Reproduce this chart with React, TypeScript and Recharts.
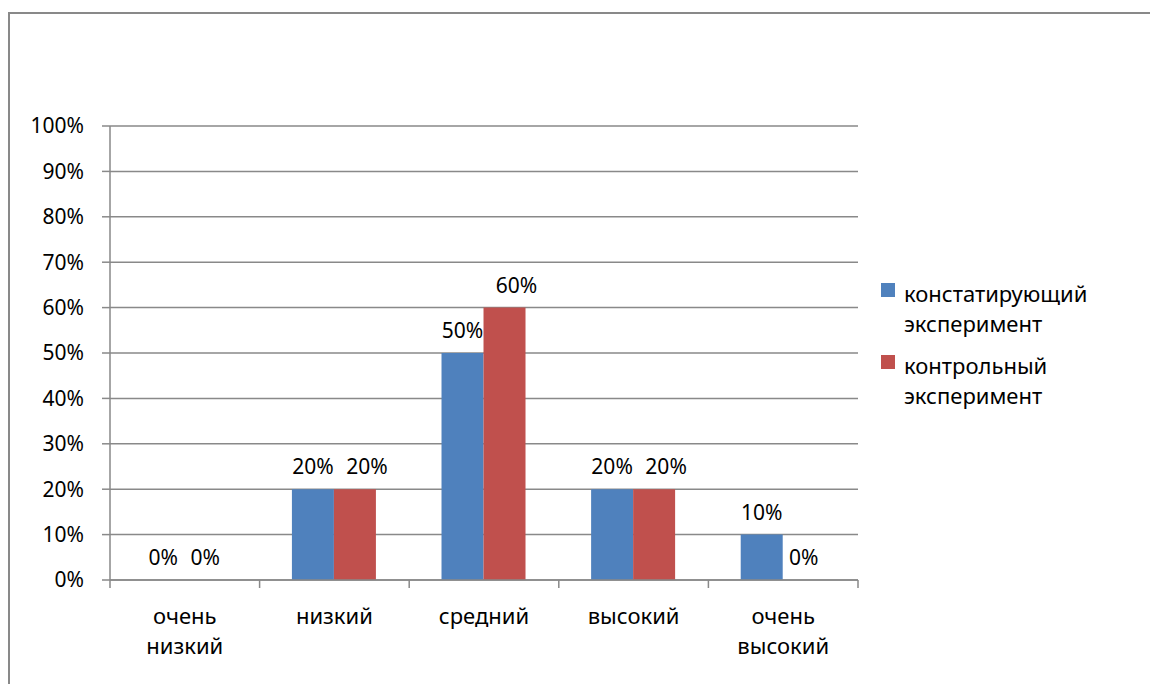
import React from 'react';
import { BarChart, Bar, XAxis, YAxis, CartesianGrid, LabelList } from 'recharts';

const categories = ['очень низкий', 'низкий', 'средний', 'высокий', 'очень высокий'];
const seriesNames = ['констатирующий эксперимент', 'контрольный эксперимент'];
const stating = [0, 20, 50, 20, 10];
const control = [0, 20, 60, 20, 0];
const yTicks = [0, 10, 20, 30, 40, 50, 60, 70, 80, 90, 100];

const colors = ['#4F81BD', '#C0504D'];
const gridColor = '#898989';
const font = '"Noto Sans", "Open Sans", sans-serif';

const data = categories.map((name, i) => ({
    name,
    stating: stating[i],
    control: control[i],
}));

const XTick = (props: any) => {
    const { x, y, payload, index, visibleTicksCount, width } = props;
    const band = payload.offset ? payload.offset * 2 : width / visibleTicksCount;
    const words = String(payload.value).split(' ');
    const left = x - band / 2;
    const right = x + band / 2;
    return (
        <g>
            <line x1={left} x2={left} y1={y} y2={y + 8} stroke={gridColor} strokeWidth={1.5} />
            {index === visibleTicksCount - 1 && (
                <line x1={right} x2={right} y1={y} y2={y + 8} stroke={gridColor} strokeWidth={1.5} />
            )}
            <text textAnchor="middle" fill="#000" fontSize={22} fontFamily={font}>
                {words.map((w, i) => (
                    <tspan key={i} x={x} y={y + 44 + i * 30}>{w}</tspan>
                ))}
            </text>
        </g>
    );
};

// value label above a bar; the second series is nudged right like Excel does to keep labels apart
const makeLabel = (shift: number) => (props: any) => {
    const { x, y, width, value } = props;
    const dx = value > 0 ? shift : 0;
    return (
        <text x={x + width / 2 + dx} y={y - 15} textAnchor="middle" fill="#000" fontSize={21} fontFamily={font}>
            {`${value}%`}
        </text>
    );
};

const ChartLegend = () => (
    <div style={{ position: 'absolute', left: 881, top: 278, width: 240, fontFamily: font, fontSize: 22, color: '#000' }}>
        {seriesNames.map((name, i) => (
            <div key={name} style={{ position: 'relative', paddingLeft: 23, lineHeight: '30px', marginBottom: 12 }}>
                <span style={{ position: 'absolute', left: 0, top: 5, width: 14, height: 14, background: colors[i] }} />
                {name}
            </div>
        ))}
    </div>
);

export default function App() {
    return (
        <div style={{ position: 'absolute', left: 0, top: 0, width: 1150, height: 684, background: '#fff', overflow: 'hidden' }}>
            <div style={{ position: 'absolute', left: 8, top: 12, width: 1160, height: 700, borderLeft: `2px solid ${gridColor}`, borderTop: `2px solid ${gridColor}` }} />
            <BarChart
                width={1150}
                height={684}
                data={data}
                margin={{ top: 126, right: 292, bottom: 44, left: 0 }}
                barCategoryGap="21.6%"
                barGap={0}
                style={{ position: 'absolute', left: 0, top: 0 }}
            >
                <CartesianGrid vertical={false} stroke={gridColor} strokeWidth={1.5} />
                <YAxis
                    width={110}
                    domain={[0, 100]}
                    ticks={yTicks}
                    tickFormatter={(v: number) => `${v}%`}
                    tickSize={8}
                    tickMargin={18}
                    axisLine={{ stroke: gridColor, strokeWidth: 1.5 }}
                    tickLine={{ stroke: gridColor, strokeWidth: 1.5 }}
                    tick={{ fill: '#000', fontSize: 21, fontFamily: font }}
                    interval={0}
                />
                <XAxis
                    dataKey="name"
                    height={60}
                    interval={0}
                    tickSize={0}
                    tickMargin={0}
                    tickLine={false}
                    axisLine={{ stroke: gridColor, strokeWidth: 1.5 }}
                    tick={<XTick />}
                />
                <Bar dataKey="stating" name={seriesNames[0]} fill={colors[0]} minPointSize={0.01} isAnimationActive={false}>
                    <LabelList dataKey="stating" content={makeLabel(0)} />
                </Bar>
                <Bar dataKey="control" name={seriesNames[1]} fill={colors[1]} minPointSize={0.01} isAnimationActive={false}>
                    <LabelList dataKey="control" content={makeLabel(12)} />
                </Bar>
            </BarChart>
            <ChartLegend />
        </div>
    );
}
